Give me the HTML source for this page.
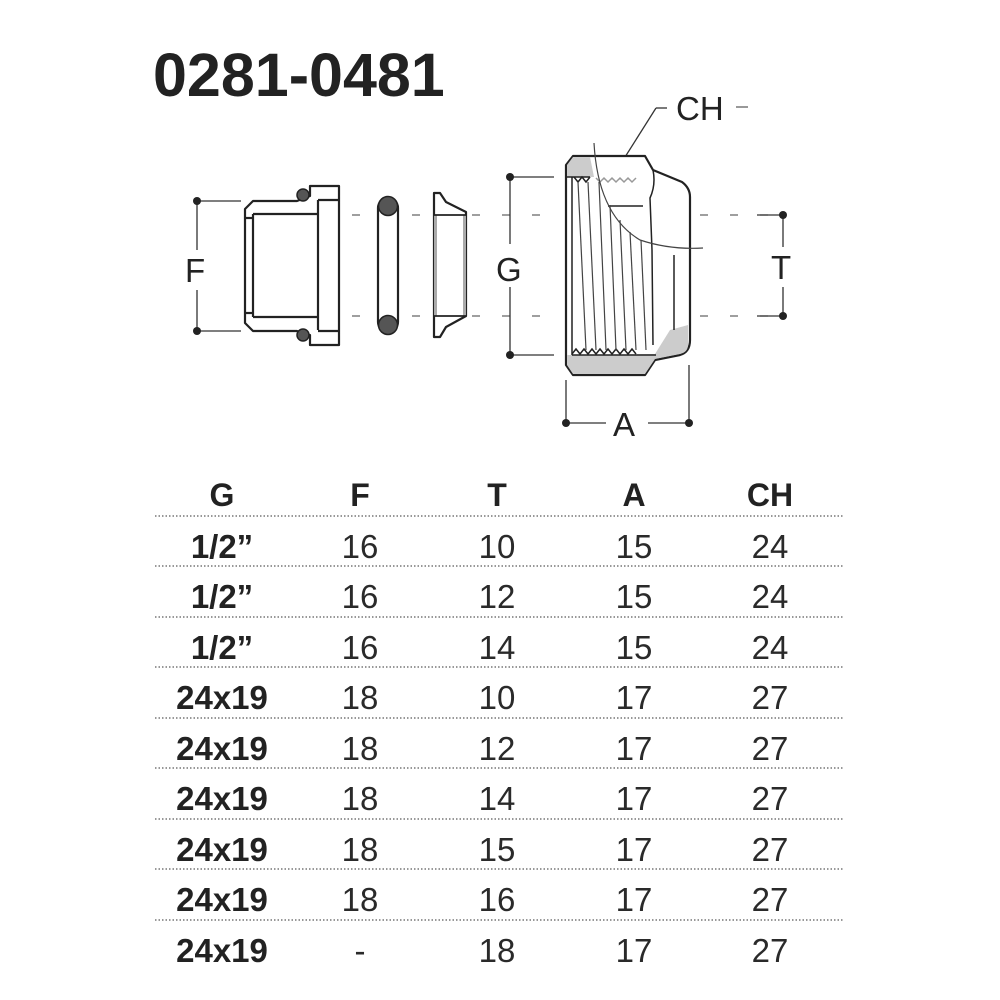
<!DOCTYPE html>
<html><head><meta charset="utf-8"><style>
html,body{margin:0;padding:0;background:#fff;}
svg{display:block;}
</style></head><body>
<svg width="1000" height="1000" viewBox="0 0 1000 1000" xmlns="http://www.w3.org/2000/svg" font-family="Liberation Sans, sans-serif">
<rect width="1000" height="1000" fill="#fff"/>
<text x="153" y="96" font-size="61" font-weight="bold" fill="#222">0281-0481</text>

<g stroke="#666" stroke-width="1.2" stroke-dasharray="8,22">
<line x1="322" y1="215" x2="560" y2="215"/>
<line x1="322" y1="316" x2="560" y2="316"/>
<line x1="700" y1="215" x2="775" y2="215"/>
<line x1="700" y1="316" x2="775" y2="316"/>
</g>
<line x1="736" y1="107" x2="748" y2="107" stroke="#555" stroke-width="1.2"/>

<g stroke="#333" stroke-width="1.3" fill="none">
<line x1="197" y1="201" x2="241" y2="201"/>
<line x1="197" y1="331" x2="241" y2="331"/>
<line x1="197" y1="201" x2="197" y2="250"/>
<line x1="197" y1="290" x2="197" y2="331"/>
<line x1="510" y1="177" x2="554" y2="177"/>
<line x1="510" y1="355" x2="554" y2="355"/>
<line x1="510" y1="177" x2="510" y2="244"/>
<line x1="510" y1="287" x2="510" y2="355"/>
<line x1="757" y1="215" x2="783" y2="215"/>
<line x1="757" y1="316" x2="783" y2="316"/>
<line x1="783" y1="215" x2="783" y2="247"/>
<line x1="783" y1="287" x2="783" y2="316"/>
<line x1="566" y1="380" x2="566" y2="423"/>
<line x1="689" y1="365" x2="689" y2="423"/>
<line x1="566" y1="423" x2="606" y2="423"/>
<line x1="648" y1="423" x2="689" y2="423"/>
<line x1="620" y1="165" x2="656" y2="108"/>
<line x1="656" y1="108" x2="667" y2="108"/>
</g>
<g fill="#222">
<circle cx="197" cy="201" r="4"/><circle cx="197" cy="331" r="4"/>
<circle cx="510" cy="177" r="4"/><circle cx="510" cy="355" r="4"/>
<circle cx="783" cy="215" r="4"/><circle cx="783" cy="316" r="4"/>
<circle cx="566" cy="423" r="4"/><circle cx="689" cy="423" r="4"/>
<circle cx="620" cy="165" r="4"/>
</g>
<g font-size="33" fill="#222">
<text x="185" y="282">F</text>
<text x="496" y="281">G</text>
<text x="771" y="279">T</text>
<text x="613" y="436">A</text>
<text x="676" y="120">CH</text>
</g>

<g stroke="#222" stroke-width="2.2" fill="#fff" stroke-linejoin="round">
<path d="M253,201 L297,201 L310,196 L310,186 L339,186 L339,345 L310,345 L310,335 L297,331 L253,331 L245,323 L245,209 Z"/>
<line x1="253" y1="214" x2="318" y2="214"/>
<line x1="253" y1="317" x2="318" y2="317"/>
<line x1="253" y1="214" x2="253" y2="317"/>
<line x1="245" y1="218" x2="253" y2="218"/>
<line x1="245" y1="313" x2="253" y2="313"/>
<line x1="318" y1="200" x2="318" y2="330"/>
<line x1="318" y1="200" x2="339" y2="200"/>
<line x1="318" y1="331" x2="339" y2="331"/>
</g>
<circle cx="303" cy="195" r="6" fill="#555" stroke="#222" stroke-width="1.5"/>
<circle cx="303" cy="335" r="6" fill="#555" stroke="#222" stroke-width="1.5"/>

<rect x="378" y="198" width="20" height="134" rx="10" fill="#fff" stroke="#222" stroke-width="2.2"/>
<circle cx="388" cy="206" r="9.5" fill="#555" stroke="#222" stroke-width="1.5"/>
<circle cx="388" cy="325" r="9.5" fill="#555" stroke="#222" stroke-width="1.5"/>

<path d="M434,193 L440,193 L446,202 L466,212 L466,316 L446,327 L440,337 L434,337 Z" fill="#fff" stroke="#222" stroke-width="2.2" stroke-linejoin="round"/>
<rect x="434" y="215" width="3" height="101" fill="#aaa"/>
<rect x="463" y="215" width="3" height="101" fill="#aaa"/>
<line x1="434" y1="215" x2="466" y2="215" stroke="#222" stroke-width="1.8"/>
<line x1="434" y1="316" x2="466" y2="316" stroke="#222" stroke-width="1.8"/>

<path d="M566,165 L573,156 L645,156 L653,170 L682,182 Q690,188 690,197 L690,340 Q690,352 680,355 L655,360 L645,375 L573,375 L566,365 Z" fill="#fff" stroke="#222" stroke-width="2.2" stroke-linejoin="round"/>
<path d="M567,165 L573,157 L590,157 L594,177 L567,177 Z" fill="#ccc"/>
<path d="M567,355 L655,354 L670,330 L688,325 L688,345 Q688,352 680,354 L655,359 L645,374 L573,374 L567,365 Z" fill="#ccc"/>
<g stroke="#222" stroke-width="1.5" fill="none">
<line x1="566" y1="177" x2="590" y2="177"/>
<path d="M574,177 l4,5 l4,-5 l4,5 l4,-5"/>
<path d="M596,178 l4,4 l4,-4 l4,4 l4,-4 l4,4 l4,-4 l4,4 l4,-4 l4,4 l4,-4" stroke="#999"/>
<path d="M572,354 l4,-5 l4,5 l4,-5 l4,5 l4,-5 l4,5 l4,-5 l4,5 l4,-5 l4,5 l4,-5 l4,5 l4,-5 l4,5 l4,-5 l4,5"/>
<line x1="572" y1="355" x2="656" y2="355"/>
<line x1="572" y1="177" x2="572" y2="355"/>
<path d="M653,170 Q656,185 650,198 L652,250 L653,345"/>
<line x1="608" y1="206" x2="643" y2="206"/>
<line x1="674" y1="255" x2="674" y2="330"/>
</g>
<g stroke="#444" stroke-width="1.2" fill="none">
<line x1="578" y1="182" x2="586" y2="350"/>
<line x1="588" y1="182" x2="596" y2="350"/>
<line x1="599" y1="182" x2="606" y2="350"/>
<line x1="610" y1="205" x2="616" y2="350"/>
<line x1="620" y1="220" x2="626" y2="350"/>
<line x1="630" y1="232" x2="636" y2="350"/>
<line x1="641" y1="240" x2="646" y2="350"/>
<path d="M594,143 Q598,215 640,240 Q670,250 703,248"/>
</g>

<g font-size="32" font-weight="bold" fill="#222" text-anchor="middle">
<text x="222" y="506">G</text><text x="360" y="506">F</text><text x="497" y="506">T</text><text x="634" y="506">A</text><text x="770" y="506">CH</text>
</g>
<g stroke="#777" stroke-width="1.5" stroke-dasharray="1.5,2">
<line x1="155" y1="516" x2="843" y2="516"/>
<line x1="155" y1="566" x2="843" y2="566"/>
<line x1="155" y1="617" x2="843" y2="617"/>
<line x1="155" y1="667" x2="843" y2="667"/>
<line x1="155" y1="718" x2="843" y2="718"/>
<line x1="155" y1="768" x2="843" y2="768"/>
<line x1="155" y1="819" x2="843" y2="819"/>
<line x1="155" y1="869" x2="843" y2="869"/>
<line x1="155" y1="920" x2="843" y2="920"/>
</g>
<g font-size="33" font-weight="bold" fill="#222" text-anchor="middle">
<text x="222" y="558">1/2”</text>
<text x="222" y="608">1/2”</text>
<text x="222" y="659">1/2”</text>
<text x="222" y="709">24x19</text>
<text x="222" y="760">24x19</text>
<text x="222" y="810">24x19</text>
<text x="222" y="861">24x19</text>
<text x="222" y="911">24x19</text>
<text x="222" y="962">24x19</text>
</g>
<g font-size="33" fill="#2a2a2a" text-anchor="middle">
<text x="360" y="558">16</text><text x="497" y="558">10</text><text x="634" y="558">15</text><text x="770" y="558">24</text>
<text x="360" y="608">16</text><text x="497" y="608">12</text><text x="634" y="608">15</text><text x="770" y="608">24</text>
<text x="360" y="659">16</text><text x="497" y="659">14</text><text x="634" y="659">15</text><text x="770" y="659">24</text>
<text x="360" y="709">18</text><text x="497" y="709">10</text><text x="634" y="709">17</text><text x="770" y="709">27</text>
<text x="360" y="760">18</text><text x="497" y="760">12</text><text x="634" y="760">17</text><text x="770" y="760">27</text>
<text x="360" y="810">18</text><text x="497" y="810">14</text><text x="634" y="810">17</text><text x="770" y="810">27</text>
<text x="360" y="861">18</text><text x="497" y="861">15</text><text x="634" y="861">17</text><text x="770" y="861">27</text>
<text x="360" y="911">18</text><text x="497" y="911">16</text><text x="634" y="911">17</text><text x="770" y="911">27</text>
<text x="360" y="962">-</text><text x="497" y="962">18</text><text x="634" y="962">17</text><text x="770" y="962">27</text>
</g>
</svg>
</body></html>
